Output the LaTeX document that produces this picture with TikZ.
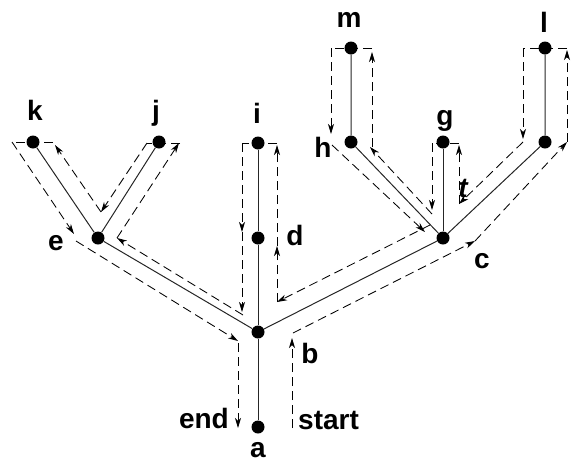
\documentclass[tikz,border=0pt]{standalone}
\usepackage{fontspec}
\setmainfont{Liberation Sans}
\usetikzlibrary{arrows.meta}
\begin{document}
\begin{tikzpicture}[x=1pt,y=-1pt,
  vertex/.style={circle,fill=black,inner sep=0pt,minimum size=13pt},
  edge/.style={line width=1pt,draw=black!85},
  tour/.style={line width=0.85pt,dash pattern=on 9pt off 5pt},
  tourarr/.style={tour,-{Stealth[length=10pt,width=6pt,inset=3pt]}},
  lbl/.style={font=\fontsize{28}{30}\selectfont\bfseries,inner sep=0pt}]
\useasboundingbox (0,0) rectangle (587,464);

% tree vertices
\node[vertex] (a)  at (258,427) {};
\node[vertex] (b)  at (258,332) {};
\node[vertex] (d)  at (258,238) {};
\node[vertex] (i)  at (258,143) {};
\node[vertex] (e)  at (98,238)  {};
\node[vertex] (k)  at (33,142)  {};
\node[vertex] (j)  at (159,142) {};
\node[vertex] (c)  at (443,238) {};
\node[vertex] (h)  at (351,142) {};
\node[vertex] (m)  at (351,48)  {};
\node[vertex] (g)  at (443,142) {};
\node[vertex] (lb) at (545,142) {};
\node[vertex] (lt) at (545,48)  {};

% tree edges
\draw[edge] (a) -- (b) -- (d) -- (i);
\draw[edge] (b) -- (e) -- (k);
\draw[edge] (e) -- (j);
\draw[edge] (b) -- (c) -- (h) -- (m);
\draw[edge] (c) -- (g);
\draw[edge] (c) -- (lb) -- (lt);

% vertex labels
\node[lbl,anchor=base] (lk) at (35,120)  {k};
\node[lbl,anchor=base] (lj) at (156,120) {j};
\node[lbl,anchor=base] (li) at (257,123) {i};
\node[lbl,anchor=base] (lm) at (349,27)  {m};
\node[lbl,anchor=base] (ll) at (544,32)  {l};
\node[lbl,anchor=base] (lg) at (445,125) {g};
\node[lbl,anchor=base] (lh) at (323,157) {h};
\node[lbl,anchor=base] (le) at (56,250)  {e};
\node[lbl,anchor=base] (ld) at (295,245) {d};
\node[lbl,anchor=base] (lc) at (482,268) {c};
\node[lbl,anchor=base] (lbb) at (310,363) {b};
\node[lbl,anchor=base] (la) at (258,457) {a};
\node[lbl,anchor=base east] (lend) at (229,428) {end};
\node[lbl,anchor=base west] (lstart) at (298,429) {start};
\node[lbl,anchor=base] (lt1) at (463,197) {\itshape t};

% corners of the walk around the tree
\coordinate (s0) at (292,428);
\coordinate (s1) at (292,338);
\coordinate (s2) at (293,333);
\coordinate (s3) at (475,241);
\coordinate (s4) at (567,142);
\coordinate (s5) at (567,50);
\coordinate (s6) at (567,48);
\coordinate (s7) at (523,48);
\coordinate (s8) at (523,139);
\coordinate (s9) at (523,142);
\coordinate (s10) at (459,204);
\coordinate (s11) at (459,145);
\coordinate (s12) at (459,143);
\coordinate (s13) at (432,143);
\coordinate (s14) at (432,210);
\coordinate (s15) at (432,214);
\coordinate (s16) at (370,147);
\coordinate (s17) at (372,147);
\coordinate (s18) at (372,52);
\coordinate (s19) at (372,48);
\coordinate (s20) at (331,48);
\coordinate (s21) at (331,134);
\coordinate (s22) at (332,145);
\coordinate (s23) at (425,232);
\coordinate (s24) at (430,225);
\coordinate (s25) at (277,302);
\coordinate (s26) at (277,246);
\coordinate (s27) at (277,145);
\coordinate (s28) at (277,143);
\coordinate (s29) at (242,143);
\coordinate (s30) at (242,232);
\coordinate (s31) at (242,312);
\coordinate (s32) at (243,315);
\coordinate (s33) at (117,238);
\coordinate (s34) at (179,143);
\coordinate (s35) at (180,143);
\coordinate (s36) at (147,143);
\coordinate (s37) at (101,212);
\coordinate (s38) at (55,145);
\coordinate (s39) at (53,142);
\coordinate (s40) at (12,142);
\coordinate (s41) at (74,234);
\coordinate (s42) at (76,241);
\coordinate (s43) at (238,341);
\coordinate (s44) at (238,343);
\coordinate (s45) at (238,428);

% the walk
\draw[tourarr] (s0) -- (s1);
\draw[tourarr] (s2) -- (s3);
\draw[tourarr] (s3) -- (s4);
\draw[tourarr] (s4) -- (s5);
\draw[tour] (s6) -- (s7);
\draw[tourarr] (s7) -- (s8);
\draw[tourarr] (s9) -- (s10);
\draw[tourarr] (s10) -- (s11);
\draw[tour] (s12) -- (s13);
\draw[tourarr] (s13) -- (s14);
\draw[tourarr] (s15) -- (s16);
\draw[tourarr] (s17) -- (s18);
\draw[tour] (s19) -- (s20);
\draw[tourarr] (s20) -- (s21);
\draw[tourarr] (s22) -- (s23);
\draw[tourarr] (s24) -- (s25);
\draw[tourarr] (s25) -- (s26);
\draw[tourarr] (s26) -- (s27);
\draw[tour] (s28) -- (s29);
\draw[tourarr] (s29) -- (s30);
\draw[tourarr] (s30) -- (s31);
\draw[tourarr] (s32) -- (s33);
\draw[tourarr] (s33) -- (s34);
\draw[tour] (s35) -- (s36);
\draw[tourarr] (s36) -- (s37);
\draw[tourarr] (s37) -- (s38);
\draw[tour] (s39) -- (s40);
\draw[tourarr] (s40) -- (s41);
\draw[tourarr] (s42) -- (s43);
\draw[tourarr] (s44) -- (s45);
\end{tikzpicture}
\end{document}
